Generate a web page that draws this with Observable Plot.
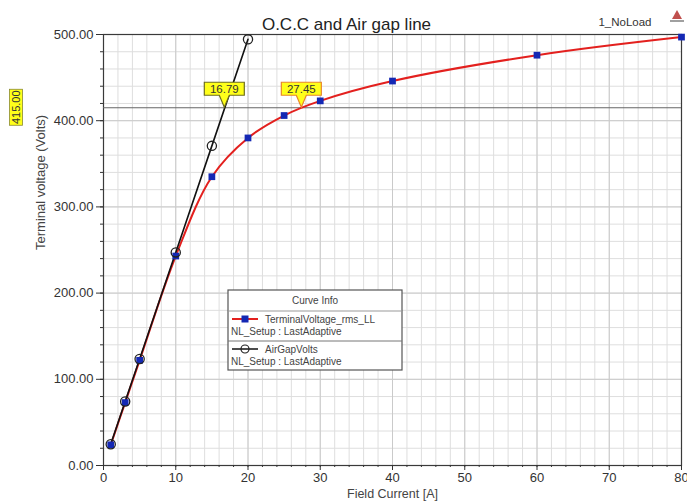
<!DOCTYPE html>
<html>
<head>
<meta charset="utf-8">
<script src="https://cdn.jsdelivr.net/npm/d3@7"></script>
<script src="https://cdn.jsdelivr.net/npm/@observablehq/plot@0.6"></script>
<style>
  body { margin: 0; background: #fff; }
  #chart { position: relative; width: 687px; height: 504px; }
  #chart svg { display: block; }
</style>
</head>
<body>
<div id="chart"></div>
<script>
// Open-circuit characteristic (no-load terminal voltage vs field current)
const fieldCurrent = [1, 3, 5, 10, 15, 20, 25, 30, 40, 60, 80];
const terminalVoltage = [24, 73, 122, 243, 335, 380, 406, 423, 446, 476, 497];

// Air gap line points
const airGapCurrent = [1, 3, 5, 10, 15, 20];
const airGapVolts = [24.7, 74.2, 123.6, 247.2, 370.8, 494.4];

// Rated voltage and the field currents where each curve reaches it
const ratedVoltage = 415;
const markerCurrents = [16.79, 27.45];
const markerBorders = ["#6e6e1e", "#e8862a"];

// Axis ticks
const xTicks = [0, 10, 20, 30, 40, 50, 60, 70, 80];
const yTicks = [0, 100, 200, 300, 400, 500];
const xMinor = d3.range(0, 81, 2);
const yMinor = d3.range(0, 501, 20);

const titleText = "O.C.C and Air gap line";
const setupName = "1_NoLoad";
const xLabel = "Field Current [A]";
const yLabel = "Terminal voltage (Volts)";
const legendTitle = "Curve Info";
const seriesNames = ["TerminalVoltage_rms_LL", "AirGapVolts"];
const solutionName = "NL_Setup : LastAdaptive";

const occ = fieldCurrent.map((x, i) => ({x, y: terminalVoltage[i]}));
const gap = airGapCurrent.map((x, i) => ({x, y: airGapVolts[i]}));

const font = "'Liberation Sans', Arial, sans-serif";

const chart = Plot.plot({
  width: 687,
  height: 504,
  marginLeft: 103,
  marginRight: 6,
  marginTop: 34,
  marginBottom: 39,
  style: {fontFamily: font, fontSize: "13px", color: "#333", background: "#fff", overflow: "visible"},
  x: {domain: [0, 80]},
  y: {domain: [0, 500]},
  marks: [
    Plot.gridX(xMinor, {stroke: "#dedede", strokeOpacity: 1}),
    Plot.gridY(yMinor, {stroke: "#dedede", strokeOpacity: 1}),
    Plot.gridX(xTicks, {stroke: "#cacaca", strokeOpacity: 1}),
    Plot.gridY(yTicks, {stroke: "#cacaca", strokeOpacity: 1}),
    Plot.frame({stroke: "#3a3a3a", strokeWidth: 1.2}),
    Plot.axisY(yMinor, {tickSize: 3, text: null, label: null, stroke: "#333"}),
    Plot.axisY(yTicks, {tickSize: 7, tickPadding: 3, tickFormat: d => d.toFixed(2), label: null, stroke: "#333", fill: "#333", fontSize: 13}),
    Plot.axisX(xMinor, {tickSize: 2, text: null, label: null, stroke: "#333"}),
    Plot.axisX(xTicks, {tickSize: 5, tickPadding: 2, label: null, stroke: "#333", fill: "#333", fontSize: 13}),
    Plot.ruleY([ratedVoltage], {stroke: "#666", strokeWidth: 1.2}),
    Plot.line(occ, {x: "x", y: "y", stroke: "#e3201e", strokeWidth: 2, curve: "catmull-rom"}),
    Plot.line(gap, {x: "x", y: "y", stroke: "#111", strokeWidth: 1.6}),
    Plot.dot(occ, {x: "x", y: "y", symbol: "square", r: 3.8, fill: "#1428b4", stroke: "none"}),
    Plot.dot(gap, {x: "x", y: "y", r: 4.6, stroke: "#222", strokeWidth: 1.3, fill: "none"}),
    Plot.text([yLabel], {frameAnchor: "left", dx: -63, rotate: -90, fontSize: 13, fill: "#444"}),
    Plot.text([xLabel], {frameAnchor: "bottom", dy: 32, fontSize: 12.5, fill: "#444"}),
    Plot.text([titleText], {frameAnchor: "top", dx: -46, dy: -17, fontSize: 17, fill: "#222"}),
    Plot.text([setupName], {frameAnchor: "top-right", dx: -30, dy: -17, textAnchor: "end", fontSize: 11.5, fill: "#333"})
  ]
});

document.getElementById("chart").appendChild(chart);

const svg = d3.select(chart);
const sx = chart.scale("x");
const sy = chart.scale("y");
const yRated = sy.apply(ratedVoltage);

// Intersection markers: yellow value box with a pointer down to the rated line
markerCurrents.forEach((v, i) => {
  const cx = sx.apply(v);
  const g = svg.append("g").attr("transform", `translate(${cx},${yRated})`);
  const w = 40, h = 13, ptr = 12, half = 5;
  g.append("path")
    .attr("d", `M${-w/2},${-ptr - h}H${w/2}V${-ptr}H${half}L0,0L${-half},${-ptr}H${-w/2}Z`)
    .attr("fill", "#ffff1a")
    .attr("stroke", markerBorders[i])
    .attr("stroke-width", 1.2);
  g.append("text")
    .attr("y", -ptr - h / 2)
    .attr("dy", "0.36em")
    .attr("text-anchor", "middle")
    .attr("font-family", font)
    .attr("font-size", 11.5)
    .attr("fill", "#333")
    .text(v.toFixed(2));
});

// Rated-voltage value tag on the left, rotated
{
  const g = svg.append("g").attr("transform", `translate(16,${yRated}) rotate(-90)`);
  g.append("rect")
    .attr("x", -18).attr("y", -6.5).attr("width", 36).attr("height", 13)
    .attr("fill", "#ffff1a").attr("stroke", "#8a8a30").attr("stroke-width", 0.8);
  g.append("text")
    .attr("dy", "0.36em").attr("text-anchor", "middle")
    .attr("font-family", font).attr("font-size", 11).attr("fill", "#333")
    .text(ratedVoltage.toFixed(2));
}

// Small product logo at the top right
{
  const g = svg.append("g").attr("transform", "translate(677,10)");
  g.append("path").attr("d", "M0,0L5,9H-5Z").attr("fill", "#c0504d");
  g.append("rect").attr("x", -7).attr("y", 10).attr("width", 14).attr("height", 2).attr("fill", "#a0a0a0");
}

// Curve info legend
{
  const lx = 228, ly = 290, lw = 174, lh = 80;
  const g = svg.append("g").attr("font-family", font).attr("fill", "#444").attr("text-anchor", "start");
  g.append("rect").attr("x", lx).attr("y", ly).attr("width", lw).attr("height", lh)
    .attr("fill", "#fff").attr("stroke", "#555").attr("stroke-width", 1.2);
  g.append("text").attr("x", lx + lw / 2).attr("y", ly + 14).attr("text-anchor", "middle")
    .attr("font-size", 10).text(legendTitle);
  g.append("line").attr("x1", lx).attr("x2", lx + lw).attr("y1", ly + 21).attr("y2", ly + 21)
    .attr("stroke", "#999");
  g.append("line").attr("x1", lx).attr("x2", lx + lw).attr("y1", ly + 51).attr("y2", ly + 51)
    .attr("stroke", "#777");
  // Entry 1
  const e1 = ly + 29;
  g.append("line").attr("x1", lx + 4).attr("x2", lx + 30).attr("y1", e1).attr("y2", e1)
    .attr("stroke", "#e3201e").attr("stroke-width", 2);
  g.append("rect").attr("x", lx + 13.5).attr("y", e1 - 3.5).attr("width", 7).attr("height", 7).attr("fill", "#1428b4");
  g.append("text").attr("x", lx + 37).attr("y", e1 + 3.5).attr("text-anchor", "start").attr("font-size", 10).text(seriesNames[0]);
  g.append("text").attr("x", lx + 3).attr("y", e1 + 15.5).attr("text-anchor", "start").attr("font-size", 10).text(solutionName);
  // Entry 2
  const e2 = ly + 59;
  g.append("line").attr("x1", lx + 4).attr("x2", lx + 30).attr("y1", e2).attr("y2", e2)
    .attr("stroke", "#111").attr("stroke-width", 1.5);
  g.append("circle").attr("cx", lx + 17).attr("cy", e2).attr("r", 4).attr("fill", "none")
    .attr("stroke", "#222").attr("stroke-width", 1.2);
  g.append("text").attr("x", lx + 37).attr("y", e2 + 3.5).attr("text-anchor", "start").attr("font-size", 10).text(seriesNames[1]);
  g.append("text").attr("x", lx + 3).attr("y", e2 + 15.5).attr("text-anchor", "start").attr("font-size", 10).text(solutionName);
}
</script>
</body>
</html>
